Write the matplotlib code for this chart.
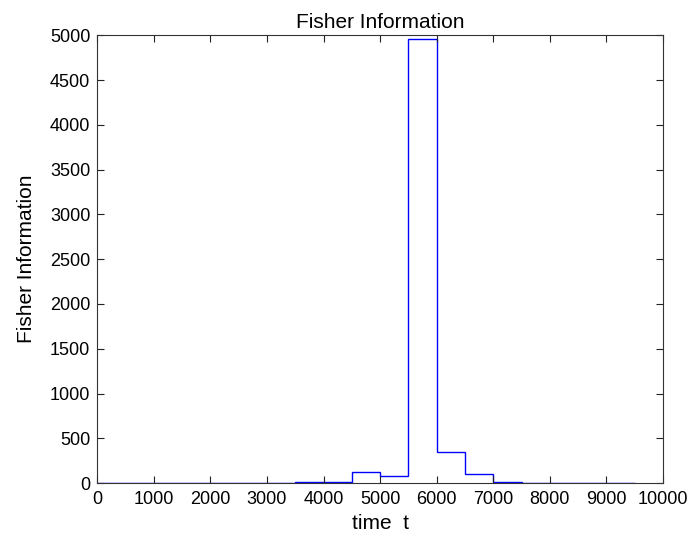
import matplotlib
matplotlib.use("Agg")
import matplotlib.pyplot as plt
import numpy as np

plt.rcParams['font.family'] = ['Liberation Sans', 'DejaVu Sans']

# bin edges (time t) and Fisher information per bin
bin_edges = [0, 500, 1000, 1500, 2000, 2500, 3000, 3500, 4000, 4500, 5000,
             5500, 6000, 6500, 7000, 7500, 8000, 8500, 9000, 9500]
fisher_info = [0, 0, 0, 4, 1, 2, 3, 8, 10, 119, 74, 4955, 344, 104, 8, 2, 1, 1, 0]

x_ticks = list(range(0, 10001, 1000))
y_ticks = list(range(0, 5001, 500))

fig = plt.figure(figsize=(6.95, 5.35), dpi=100)
ax = fig.add_axes([0.140, 0.097, 0.814, 0.837])

ax.stairs(fisher_info, bin_edges, color='#0000ff', linewidth=1.0, baseline=None)

ax.set_xlim(0, 10000)
ax.set_ylim(0, 5000)
ax.set_xticks(x_ticks)
ax.set_yticks(y_ticks)
ax.tick_params(direction='in', top=True, right=True, length=5, width=0.8,
               labelsize=13, colors='#222222', labelcolor='black')
ax.tick_params(axis='x', pad=6)
ax.tick_params(axis='y', pad=5)
for s in ax.spines.values():
    s.set_color('#333333')
    s.set_linewidth(0.8)

ax.set_title('Fisher Information', fontsize=15, pad=5)
ax.set_xlabel('time  t', fontsize=15)
ax.set_ylabel('Fisher Information', fontsize=15)
ax.xaxis.set_label_coords(0.5, -0.068)
ax.yaxis.set_label_coords(-0.108, 0.5)

fig.savefig('out.png', dpi=100)
